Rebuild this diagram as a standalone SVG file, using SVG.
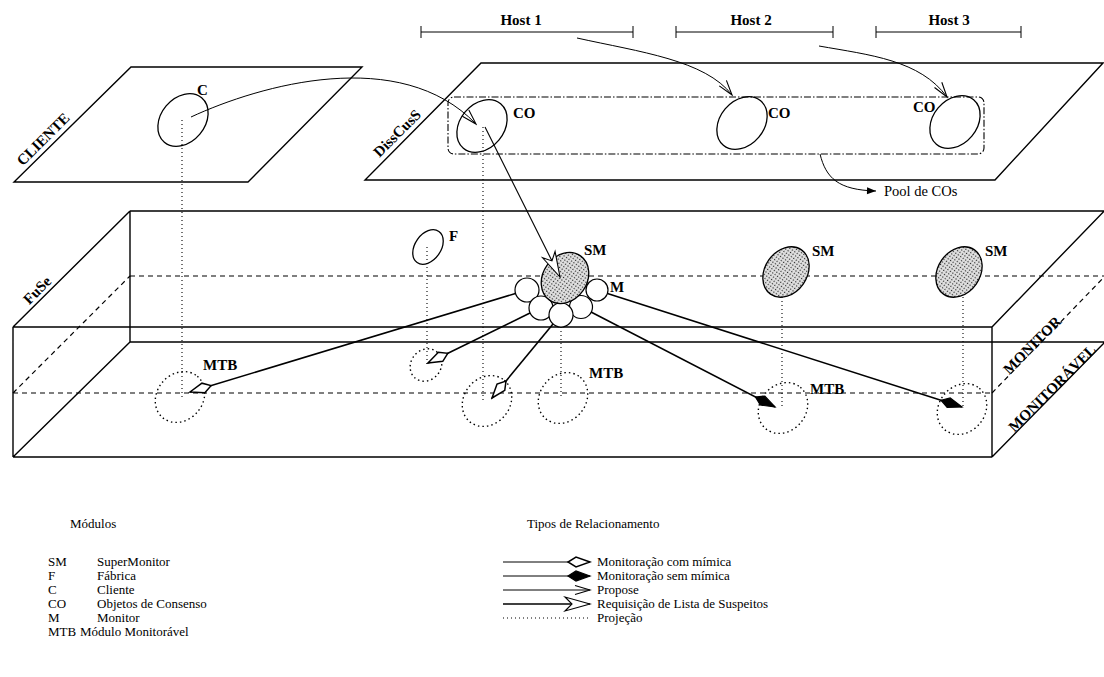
<svg xmlns="http://www.w3.org/2000/svg" width="1104" height="677" viewBox="0 0 1104 677">
<defs>
<style>
.ln{fill:none;stroke:#000;stroke-width:1.4}
.thin{fill:none;stroke:#000;stroke-width:1}
.dash{fill:none;stroke:#000;stroke-width:1.2;stroke-dasharray:5 4}
.dot{fill:none;stroke:#000;stroke-width:1.1;stroke-dasharray:1 3}
.dotE{fill:none;stroke:#000;stroke-width:1.4;stroke-dasharray:1.5 3}
.pool{fill:none;stroke:#000;stroke-width:1.1;stroke-dasharray:7 2 1.5 2}
.ell{fill:none;stroke:#000;stroke-width:1.3}
.circ{fill:#fff;stroke:#000;stroke-width:1.2}
.sm{fill:url(#stip);stroke:#000;stroke-width:1.3}
.mon{fill:none;stroke:#000;stroke-width:1.6}
.req{fill:none;stroke:#000;stroke-width:1.1}
.lbl{font-family:"Liberation Serif","Times New Roman",serif;font-size:15px;font-weight:bold;fill:#000}
.leg{font-family:"Liberation Serif","Times New Roman",serif;font-size:13px;fill:#000}
</style>
<pattern id="stip" width="3" height="3" patternUnits="userSpaceOnUse">
<rect width="3" height="3" fill="#e2e2e2"/><rect width="1.2" height="1.2" fill="#222"/>
</pattern>
<marker id="kOpen" viewBox="-24 -7 26 14" markerWidth="26" markerHeight="14" refX="0" refY="0" orient="auto" markerUnits="userSpaceOnUse">
<path d="M0,0 L-14,-5 L-22,0 L-14,5 Z" fill="#fff" stroke="#000" stroke-width="1.5"/>
</marker>
<marker id="kFill" viewBox="-24 -7 26 14" markerWidth="26" markerHeight="14" refX="0" refY="0" orient="auto" markerUnits="userSpaceOnUse">
<path d="M0,0 L-14,-5 L-22,0 L-14,5 Z" fill="#000" stroke="#000" stroke-width="1.2"/>
</marker>
<marker id="prop" viewBox="-18 -7 20 14" markerWidth="20" markerHeight="14" refX="0" refY="0" orient="auto" markerUnits="userSpaceOnUse">
<path d="M-15,-4.5 L0,0 L-15,4.5" fill="none" stroke="#000" stroke-width="1.1"/>
</marker>
<marker id="reqA" viewBox="-28 -9 30 18" markerWidth="30" markerHeight="18" refX="0" refY="0" orient="auto" markerUnits="userSpaceOnUse">
<path d="M0,0 L-25,-7 L-18,0 L-25,7 Z" fill="#fff" stroke="#000" stroke-width="1.1"/>
</marker>
<marker id="small" viewBox="-10 -5 12 10" markerWidth="12" markerHeight="10" refX="0" refY="0" orient="auto" markerUnits="userSpaceOnUse">
<path d="M0,0 L-9,-3.5 L-9,3.5 Z" fill="#000"/>
</marker>
</defs>
<rect width="1104" height="677" fill="#fff"/>

<g id="plane-cliente">
<polygon class="ln" points="131,67 362,67 248,182 14,182"/>
<text class="lbl" transform="translate(43,139) rotate(-45)" text-anchor="middle" dy="0.35em">CLIENTE</text>
</g>

<g id="plane-disscuss">
<polygon class="ln" points="481,63 1103,63 995,180 365,180"/>
<text class="lbl" transform="translate(397,133) rotate(-45)" text-anchor="middle" dy="0.35em">DissCusS</text>
</g>

<g id="hosts">
<path class="thin" d="M421,32 H633 M421,26 V38 M633,26 V38"/>
<text class="lbl" x="521" y="25" text-anchor="middle">Host 1</text>
<path class="thin" d="M676,32 H833 M676,26 V38 M833,26 V38"/>
<text class="lbl" x="751" y="25" text-anchor="middle">Host 2</text>
<path class="thin" d="M876,32 H1021 M876,26 V38 M1021,26 V38"/>
<text class="lbl" x="949" y="25" text-anchor="middle">Host 3</text>
</g>

<g id="pool">
<rect class="pool" x="448" y="97" width="536" height="57" rx="6"/>
<text class="lbl" x="884" y="196" style="font-weight:normal;font-size:14.5px">Pool de COs</text>
</g>

<g id="box-monitor">
<path class="ln" d="M130,211 H1104 M13,327 L130,211 M13,327 H992 M13,457 H992 M13,327 V457 M992,327 V457 M992,327 L1108,207 M992,457 L1108,339 M130,211 V342 M130,342 H1104 M13,457 L130,342"/>
<path class="dash" d="M130,276 H1104 M13,393 H992 M13,393 L130,276 M992,393 L1108,273"/>
<text class="lbl" transform="translate(37,290) rotate(-45)" text-anchor="middle" dy="0.35em">FuSe</text>
<text class="lbl" transform="translate(1032,345) rotate(-45)" text-anchor="middle" dy="0.35em">MONITOR</text>
<text class="lbl" transform="translate(1052,388) rotate(-45)" text-anchor="middle" dy="0.35em">MONITORÁVEL</text>
</g>

<g id="node-C">
<ellipse class="ell" cx="183" cy="120" rx="29" ry="22" transform="rotate(-50 183 120)"/>
<text class="lbl" x="197" y="95">C</text>
</g>
<g id="node-CO1">
<ellipse class="ell" cx="482" cy="126" rx="29" ry="22" transform="rotate(-50 482 126)"/>
<text class="lbl" x="513" y="118">CO</text>
</g>
<g id="node-CO2">
<ellipse class="ell" cx="742" cy="123" rx="29" ry="22" transform="rotate(-50 742 123)"/>
<text class="lbl" x="768" y="118">CO</text>
</g>
<g id="node-CO3">
<ellipse class="ell" cx="955" cy="122" rx="29" ry="22" transform="rotate(-50 955 122)"/>
<text class="lbl" x="913" y="112">CO</text>
</g>
<g id="node-F">
<ellipse class="ell" cx="428" cy="247" rx="19" ry="13" transform="rotate(-55 428 247)"/>
<text class="lbl" x="449" y="241">F</text>
</g>
<g id="node-M">
<circle class="circ" cx="527" cy="290" r="12"/>
<circle class="circ" cx="541" cy="308" r="12"/>
<circle class="circ" cx="581" cy="307" r="11.5"/>
<circle class="circ" cx="597" cy="290" r="11"/>
<circle class="circ" cx="561" cy="315" r="12"/>
<text class="lbl" x="610" y="292">M</text>
</g>
<g id="node-SM1">
<ellipse class="sm" cx="565" cy="278" rx="27" ry="22" transform="rotate(-55 565 278)"/>
<text class="lbl" x="584" y="255">SM</text>
</g>
<g id="node-SM2">
<ellipse class="sm" cx="786" cy="272" rx="27" ry="21" transform="rotate(-55 786 272)"/>
<text class="lbl" x="812" y="256">SM</text>
</g>
<g id="node-SM3">
<ellipse class="sm" cx="959" cy="272" rx="27" ry="21" transform="rotate(-55 959 272)"/>
<text class="lbl" x="985" y="256">SM</text>
</g>
<g id="node-MTB1">
<ellipse class="dotE" cx="180" cy="397" rx="27" ry="23" transform="rotate(-50 180 397)"/>
<text class="lbl" x="203" y="370">MTB</text>
</g>
<g id="node-MTB2">
<ellipse class="dotE" cx="426" cy="365" rx="17" ry="15" transform="rotate(-50 426 365)"/>
</g>
<g id="node-MTB3">
<ellipse class="dotE" cx="487" cy="401" rx="27" ry="23" transform="rotate(-50 487 401)"/>
</g>
<g id="node-MTB4">
<ellipse class="dotE" cx="563" cy="398" rx="27" ry="23" transform="rotate(-50 563 398)"/>
<text class="lbl" x="589" y="378">MTB</text>
</g>
<g id="node-MTB5">
<ellipse class="dotE" cx="783" cy="408" rx="27" ry="23" transform="rotate(-50 783 408)"/>
<text class="lbl" x="810" y="394">MTB</text>
</g>
<g id="node-MTB6">
<ellipse class="dotE" cx="962" cy="409" rx="27" ry="23" transform="rotate(-50 962 409)"/>
</g>

<g id="connectors">
<path class="dot" d="M182,120 V397 M483,127 V401 M427,247 V365 M561,327 V398 M782,297 V408 M963,297 V409"/>
<path class="thin" d="M191,117 C260,85 400,45 476,124" marker-end="url(#prop)"/>
<path class="thin" d="M577,38 C640,52 705,60 732,95" marker-end="url(#prop)"/>
<path class="thin" d="M819,46 C870,55 920,60 947,97" marker-end="url(#prop)"/>
<path class="thin" d="M820,154 C826,178 838,190 876,191" marker-end="url(#small)"/>
<path class="req" d="M485,127 L560,277" marker-end="url(#reqA)"/>
<path class="mon" d="M515.5,293.5 L190,392" marker-end="url(#kOpen)"/>
<path class="mon" d="M530,313 L428,363" marker-end="url(#kOpen)"/>
<path class="mon" d="M553,324 L492,398" marker-end="url(#kOpen)"/>
<path class="mon" d="M591,312 L775,407" marker-end="url(#kFill)"/>
<path class="mon" d="M607.5,293.5 L962,407" marker-end="url(#kFill)"/>
</g>

<g id="legend-modulos">
<text class="leg" x="70" y="528">Módulos</text>
<text class="leg" x="48" y="566">SM</text><text class="leg" x="97" y="566">SuperMonitor</text>
<text class="leg" x="48" y="580">F</text><text class="leg" x="97" y="580">Fábrica</text>
<text class="leg" x="48" y="594">C</text><text class="leg" x="97" y="594">Cliente</text>
<text class="leg" x="48" y="608">CO</text><text class="leg" x="97" y="608">Objetos de Consenso</text>
<text class="leg" x="48" y="622">M</text><text class="leg" x="97" y="622">Monitor</text>
<text class="leg" x="48" y="636">MTB</text><text class="leg" x="80" y="636">Módulo Monitorável</text>
</g>

<g id="legend-tipos">
<text class="leg" x="527" y="528">Tipos de Relacionamento</text>
<path class="thin" d="M503,562 H590" marker-end="url(#kOpen)"/>
<text class="leg" x="597" y="566">Monitoração com mímica</text>
<path class="thin" d="M503,576 H590" marker-end="url(#kFill)"/>
<text class="leg" x="597" y="580">Monitoração sem mímica</text>
<path class="thin" d="M503,590 H590" marker-end="url(#prop)"/>
<text class="leg" x="597" y="594">Propose</text>
<path class="ln" d="M503,604 H590" marker-end="url(#reqA)"/>
<text class="leg" x="597" y="608">Requisição de Lista de Suspeitos</text>
<path class="dot" d="M503,618 H590"/>
<text class="leg" x="597" y="622">Projeção</text>
</g>
</svg>
